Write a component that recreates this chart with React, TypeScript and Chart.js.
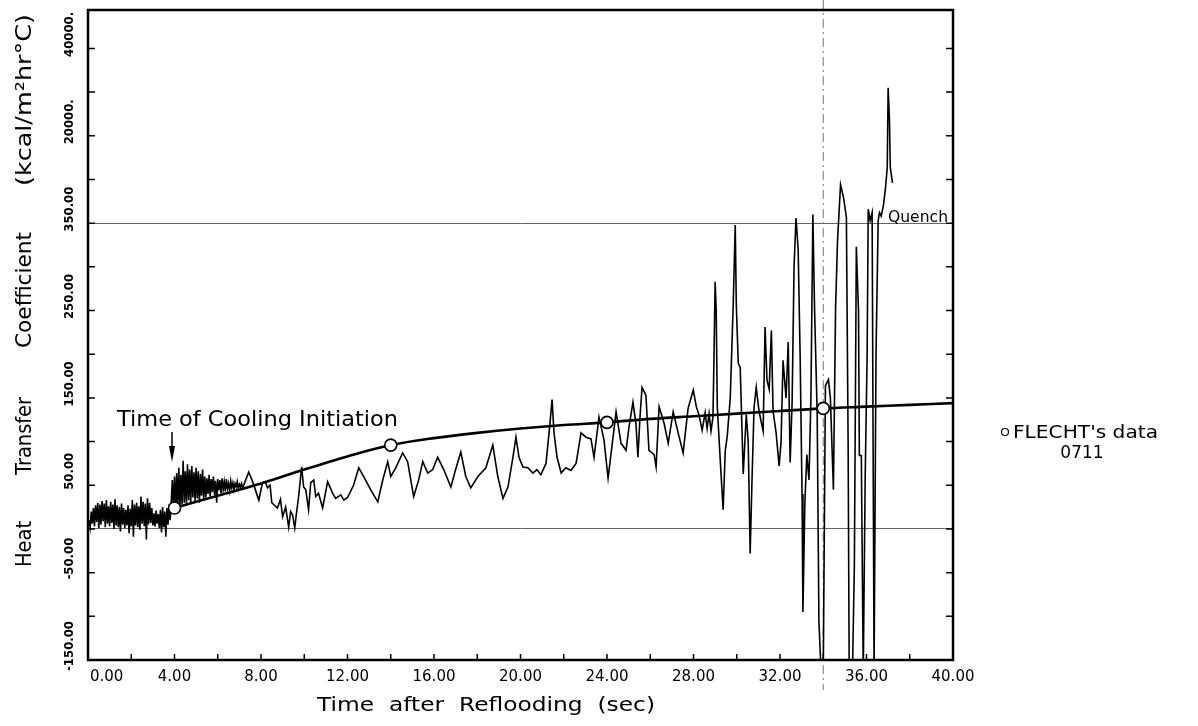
import React, { useEffect, useRef } from 'react';
import { Chart, registerables } from 'chart.js';

Chart.register(...registerables);

const FONT = '"DejaVu Sans", "Liberation Sans", sans-serif';
const FONT_COND = '"DejaVu Sans Condensed", "DejaVu Sans", sans-serif';

// Measured heat transfer coefficient trace (time in sec, value in axis units)
const seg1Time = [0.05, 0.1, 0.15, 0.2, 0.25, 0.3, 0.35, 0.4, 0.45, 0.5,
  0.55, 0.6, 0.65, 0.7, 0.75, 0.8, 0.85, 0.9, 0.95, 1.0,
  1.05, 1.1, 1.15, 1.2, 1.25, 1.3, 1.35, 1.4, 1.45, 1.5,
  1.55, 1.6, 1.65, 1.7, 1.75, 1.8, 1.85, 1.9, 1.95, 2.0,
  2.05, 2.1, 2.15, 2.2, 2.25, 2.3, 2.35, 2.4, 2.45, 2.5,
  2.55, 2.6, 2.65, 2.7, 2.75, 2.8, 2.85, 2.9, 2.95, 3.0,
  3.05, 3.1, 3.15, 3.2, 3.25, 3.3, 3.35, 3.4, 3.45, 3.5,
  3.55, 3.6, 3.65, 3.7, 3.75, 3.8, 3.85, 3.9, 3.95, 4.0,
  4.05, 4.1, 4.15, 4.2, 4.25, 4.3, 4.35, 4.4, 4.45, 4.5,
  4.55, 4.6, 4.65, 4.7, 4.75, 4.8, 4.85, 4.9, 4.95, 5.0,
  5.05, 5.1, 5.15, 5.2, 5.25, 5.3, 5.35, 5.4, 5.45, 5.5,
  5.55, 5.6, 5.65, 5.7, 5.75, 5.8, 5.85, 5.9, 5.95, 6.0,
  6.05, 6.1, 6.15, 6.2, 6.25, 6.3, 6.35, 6.4, 6.45, 6.5,
  6.55, 6.6, 6.65, 6.7, 6.75, 6.8, 6.85, 6.9, 6.95, 7.0,
  7.05, 7.1, 7.15, 7.2];
const seg1H = [10, 2, 20, 6, 24, 3, 27, 8, 30, 1,
  28, 5, 32, 9, 29, 2, 33, 6, 26, 3,
  31, 7, 28, 0, 34, 4, 27, 2, 25, -3,
  29, 5, 24, 1, 22, 4, 27, -5, 23, 3,
  33, -9, 28, 4, 30, 2, 26, -1, 37, 6,
  31, 3, 29, -12, 35, 5, 30, 7, 24, 4,
  18, 3, 21, 6, 17, 1, 22, -4, 25, 2,
  20, -9, 24, 5, 28, 10, 32, 56, 20, 60,
  22, 64, 26, 70, 24, 62, 28, 78, 30, 66,
  27, 74, 33, 68, 29, 72, 36, 65, 32, 70,
  35, 66, 30, 63, 38, 68, 34, 60, 36, 58,
  40, 62, 37, 57, 42, 60, 39, 55, 30, 57,
  44, 56, 41, 58, 45, 54, 43, 57, 46, 52,
  44, 55, 47, 53, 45, 52, 48, 54, 46, 51,
  48, 52, 47, 50];

const seg2Time = [7.43, 7.6, 7.9, 8.07, 8.2, 8.3, 8.42, 8.5, 8.76, 8.9,
  9.0, 9.14, 9.28, 9.37, 9.46, 9.56, 9.65, 9.74, 9.88, 9.97,
  10.07, 10.2, 10.3, 10.44, 10.53, 10.66, 10.85, 11.08, 11.31, 11.45,
  11.69, 11.83, 12.0, 12.28, 12.52, 12.75, 13.07, 13.4, 13.63, 13.86,
  14.0, 14.23, 14.55, 14.78, 15.06, 15.29, 15.48, 15.71, 15.94, 16.17,
  16.45, 16.78, 17.0, 17.24, 17.47, 17.7, 18.03, 18.4, 18.72, 18.95,
  19.19, 19.42, 19.65, 19.79, 19.93, 20.11, 20.34, 20.57, 20.76, 20.94,
  21.18, 21.36, 21.46, 21.55, 21.69, 21.88, 22.1, 22.33, 22.57, 22.8,
  23.03, 23.26, 23.4, 23.63, 23.86, 24.05, 24.28, 24.42, 24.65, 24.88,
  25.02, 25.2, 25.34, 25.43, 25.53, 25.62, 25.8, 25.94, 26.18, 26.27,
  26.41, 26.64, 26.83, 27.06, 27.29, 27.52, 27.75, 27.99, 28.13, 28.26,
  28.4, 28.54, 28.63, 28.72, 28.81, 28.9];
const seg2H = [65, 55, 33, 53, 54, 47, 50, 30, 24, 34,
  14, 25, 2, 20, 16, 1, 20, 37, 71, 48,
  45, 22, 53, 56, 37, 41, 24, 54, 41, 35,
  39, 33, 36, 50, 70, 60, 45, 31, 56, 77,
  60, 70, 87, 77, 37, 56, 77, 64, 68, 82,
  68, 48, 68, 88, 60, 47, 60, 70, 96, 60,
  35, 48, 82, 105, 82, 71, 70, 64, 68, 62,
  75, 120, 148, 110, 82, 64, 70, 67, 75, 110,
  105, 103, 82, 128, 102, 58, 105, 134, 98, 90,
  117, 145, 120, 82, 130, 162, 153, 90, 85, 71,
  140, 121, 98, 134, 110, 87, 138, 159, 140, 130,
  113, 133, 115, 132, 112, 128];

const seg3Time = [28.95, 29.0, 29.05, 29.1, 29.2, 29.28, 29.37, 29.47, 29.56, 29.7,
  29.84, 29.93, 29.98, 30.07, 30.16, 30.3, 30.44, 30.53, 30.62, 30.71,
  30.8, 30.9, 31.03, 31.22, 31.31, 31.4, 31.5, 31.6, 31.68, 31.82,
  31.96, 32.05, 32.14, 32.28, 32.38, 32.47, 32.56, 32.65, 32.74, 32.84,
  32.93, 33.02, 33.06, 33.15, 33.24, 33.34, 33.43, 33.52, 33.6, 33.72,
  33.8, 33.9, 34.0, 34.1, 34.24, 34.33, 34.47, 34.57, 34.66, 34.8,
  34.94, 35.07, 35.15, 35.2, 35.35, 35.44, 35.53, 35.63, 35.67, 35.76,
  35.85, 35.94, 36.03, 36.08, 36.17, 36.26, 36.35, 36.44, 36.54, 36.6,
  36.68, 36.78, 36.87, 36.96, 37.0, 37.06, 37.1, 37.2];
const seg3H = [200, 283, 250, 140, 95, 60, 22, 90, 106, 150,
  260, 348, 256, 190, 185, 63, 131, 100, -28, 60,
  139, 162, 135, 112, 231, 170, 160, 227, 135, 110,
  72, 100, 193, 150, 214, 76, 145, 300, 356, 320,
  200, 40, -95, 30, 85, 56, 150, 360, 250, 131,
  -106, -165, -165, 164, 171, 150, 45, 253, 330, 394,
  379, 357, 100, -165, -165, -40, 323, 250, 84, 84,
  -165, 60, 200, 366, 353, 362, -160, 200, 353, 362,
  358, 370, 388, 414, 505, 470, 414, 396];

// FLECHT's data 0711 (smooth curve) and its marked points
const flechtTime = [4, 6, 8, 10, 12, 14, 16, 18, 20, 22, 24, 26, 28, 30, 32, 34, 36, 38, 40];
const flechtH = [24, 38, 52, 68, 83, 96, 104, 110, 115, 119, 122, 126, 129, 132, 135, 138, 140, 142, 144];
const markerTime = [4, 14, 24, 34];

// Axes
const xMin = 0;
const xMax = 40;
const xTickStep = 2;
const xLabelEvery = 4;
const yMin = -150;
const yMax = 594;
const yTickStep = 50;
const yLabelValues = [-150, -50, 50, 150, 250, 350, 450, 550];
const yLabelTexts = ['-150.00', '-50.00', '50.00', '150.00', '250.00', '350.00', '20000.', '40000.'];
const refLineValues = [0, 350];
const scanLineTime = 34.0;

function pairs(t: number[], h: number[]) {
  const n = Math.min(t.length, h.length);
  const out: { x: number; y: number }[] = [];
  for (let i = 0; i < n; i++) out.push({ x: t[i], y: h[i] });
  return out;
}

function fitText(ctx: CanvasRenderingContext2D, text: string, x: number, y: number, width: number, font: string, align: CanvasTextAlign) {
  ctx.save();
  ctx.font = font;
  const w = ctx.measureText(text).width;
  ctx.translate(x, y);
  ctx.scale(width / w, 1);
  ctx.textAlign = align;
  ctx.fillText(text, 0, 0);
  ctx.restore();
}

const decor = {
  id: 'decor',
  beforeDatasetsDraw(chart: any) {
    const { ctx, scales } = chart;
    const px = scales.x.getPixelForValue(scanLineTime);
    ctx.save();
    ctx.strokeStyle = '#777';
    ctx.lineWidth = 1;
    ctx.setLineDash([9, 4, 2, 4]);
    ctx.beginPath();
    ctx.moveTo(px, 0);
    ctx.lineTo(px, 690);
    ctx.stroke();
    ctx.restore();
  },
  afterDraw(chart: any) {
    const { ctx, chartArea: a, scales } = chart;
    const x = scales.x;
    const y = scales.y;
    ctx.save();
    ctx.fillStyle = '#000';
    ctx.strokeStyle = '#000';

    // frame
    ctx.lineWidth = 2.5;
    ctx.strokeRect(a.left, a.top, a.right - a.left, a.bottom - a.top);

    // inner ticks
    ctx.lineWidth = 1.5;
    ctx.beginPath();
    y.ticks.forEach((t: any) => {
      if (Math.abs(t.value % yTickStep) > 1e-6) return;
      const py = y.getPixelForValue(t.value);
      ctx.moveTo(a.left, py); ctx.lineTo(a.left + 7, py);
      ctx.moveTo(a.right, py); ctx.lineTo(a.right - 7, py);
    });
    x.ticks.forEach((t: any) => {
      const p = x.getPixelForValue(t.value);
      ctx.moveTo(p, a.bottom); ctx.lineTo(p, a.bottom - 6);
    });
    ctx.stroke();

    // x tick labels
    ctx.font = '15px ' + FONT;
    ctx.textBaseline = 'middle';
    x.ticks.forEach((t: any) => {
      const v = Number(t.value);
      if (v % xLabelEvery !== 0) return;
      const p = x.getPixelForValue(v);
      if (v === xMin) {
        ctx.textAlign = 'left';
        ctx.fillText(v.toFixed(2), p + 2, a.bottom + 17);
      } else {
        ctx.textAlign = 'center';
        ctx.fillText(v.toFixed(2), p, a.bottom + 17);
      }
    });

    // rotated y tick labels
    yLabelValues.forEach((v, i) => {
      const py = y.getPixelForValue(v) - 14;
      ctx.save();
      ctx.translate(70, py);
      ctx.rotate(-Math.PI / 2);
      ctx.font = 'bold 13px ' + FONT_COND;
      ctx.textAlign = 'center';
      ctx.textBaseline = 'middle';
      ctx.fillText(yLabelTexts[i], 0, 0);
      ctx.restore();
    });

    // y axis title
    const words: [string, number, number][] = [
      ['Heat', 544, 46],
      ['Transfer', 436, 78],
      ['Coefficient', 290, 116],
      ['(kcal/m\u00B2hr\u00B0C)', 100, 172],
    ];
    words.forEach(([w, cy, wd]) => {
      ctx.save();
      ctx.translate(25, cy);
      ctx.rotate(-Math.PI / 2);
      ctx.textBaseline = 'middle';
      fitText(ctx, w, 0, 0, wd, '22px ' + FONT, 'center');
      ctx.restore();
    });

    // x axis title
    ctx.textBaseline = 'alphabetic';
    fitText(ctx, 'Time  after  Reflooding  (sec)', 486, 711, 338, '20px ' + FONT, 'center');

    // annotations
    fitText(ctx, 'Time of Cooling Initiation', 117, 426, 281, '22px ' + FONT, 'left');
    ctx.lineWidth = 1.5;
    ctx.beginPath();
    ctx.moveTo(172, 432);
    ctx.lineTo(172, 450);
    ctx.stroke();
    ctx.beginPath();
    ctx.moveTo(169, 446);
    ctx.lineTo(175, 446);
    ctx.lineTo(172, 462);
    ctx.closePath();
    ctx.fill();

    fitText(ctx, 'Quench', 888, 222, 60, '16px ' + FONT, 'left');

    // legend
    ctx.lineWidth = 1.2;
    ctx.beginPath();
    ctx.arc(1005, 432, 3.5, 0, Math.PI * 2);
    ctx.stroke();
    fitText(ctx, "FLECHT's data", 1013, 438, 145, '17px ' + FONT, 'left');
    ctx.font = '17px ' + FONT;
    ctx.textAlign = 'center';
    ctx.fillText('0711', 1082, 458);
    ctx.restore();
  },
};

export default function App() {
  const ref = useRef<HTMLCanvasElement>(null);
  useEffect(() => {
    const canvas = ref.current;
    if (!canvas) return;
    const traceData = [...pairs(seg1Time, seg1H), ...pairs(seg2Time, seg2H), ...pairs(seg3Time, seg3H)];
    const curveData = pairs(flechtTime, flechtH);
    const markerData = markerTime.map((t) => ({ x: t, y: flechtH[flechtTime.indexOf(t)] }));
    const chart = new Chart(canvas, {
      type: 'line',
      data: {
        datasets: [
          {
            label: 'markers', data: markerData, showLine: false, pointRadius: 6,
            pointBackgroundColor: '#fff', pointBorderColor: '#000', pointBorderWidth: 1.6, order: 0,
          },
          {
            label: "FLECHT's data", data: curveData, borderColor: '#000', borderWidth: 2.6,
            pointRadius: 0, cubicInterpolationMode: 'monotone', order: 1,
          },
          {
            label: 'trace', data: traceData, borderColor: '#000', borderWidth: 1.6,
            pointRadius: 0, tension: 0, order: 2,
          },
        ],
      } as any,
      options: {
        animation: false,
        responsive: true,
        maintainAspectRatio: false,
        events: [],
        layout: { padding: { top: 10, right: 245, bottom: 0, left: 0 } },
        plugins: { legend: { display: false }, tooltip: { enabled: false } },
        scales: {
          x: {
            type: 'linear', min: xMin, max: xMax,
            border: { display: false },
            grid: { display: false, drawTicks: false },
            ticks: { display: false, stepSize: xTickStep, autoSkip: false },
            afterFit: (s: any) => { s.height = 66; },
          },
          y: {
            type: 'linear', min: yMin, max: yMax,
            border: { display: false },
            grid: {
              drawTicks: false, lineWidth: 1,
              color: (c: any) => (refLineValues.includes(c.tick?.value) ? '#666' : 'rgba(0,0,0,0)'),
            },
            ticks: { display: false, stepSize: yTickStep },
            afterFit: (s: any) => { s.width = 88; },
          },
        },
      } as any,
      plugins: [decor],
    });
    return () => chart.destroy();
  }, []);
  return (
    <div style={{ position: 'fixed', left: 0, top: 0, width: 1198, height: 726, background: '#fff' }}>
      <canvas ref={ref} />
    </div>
  );
}
